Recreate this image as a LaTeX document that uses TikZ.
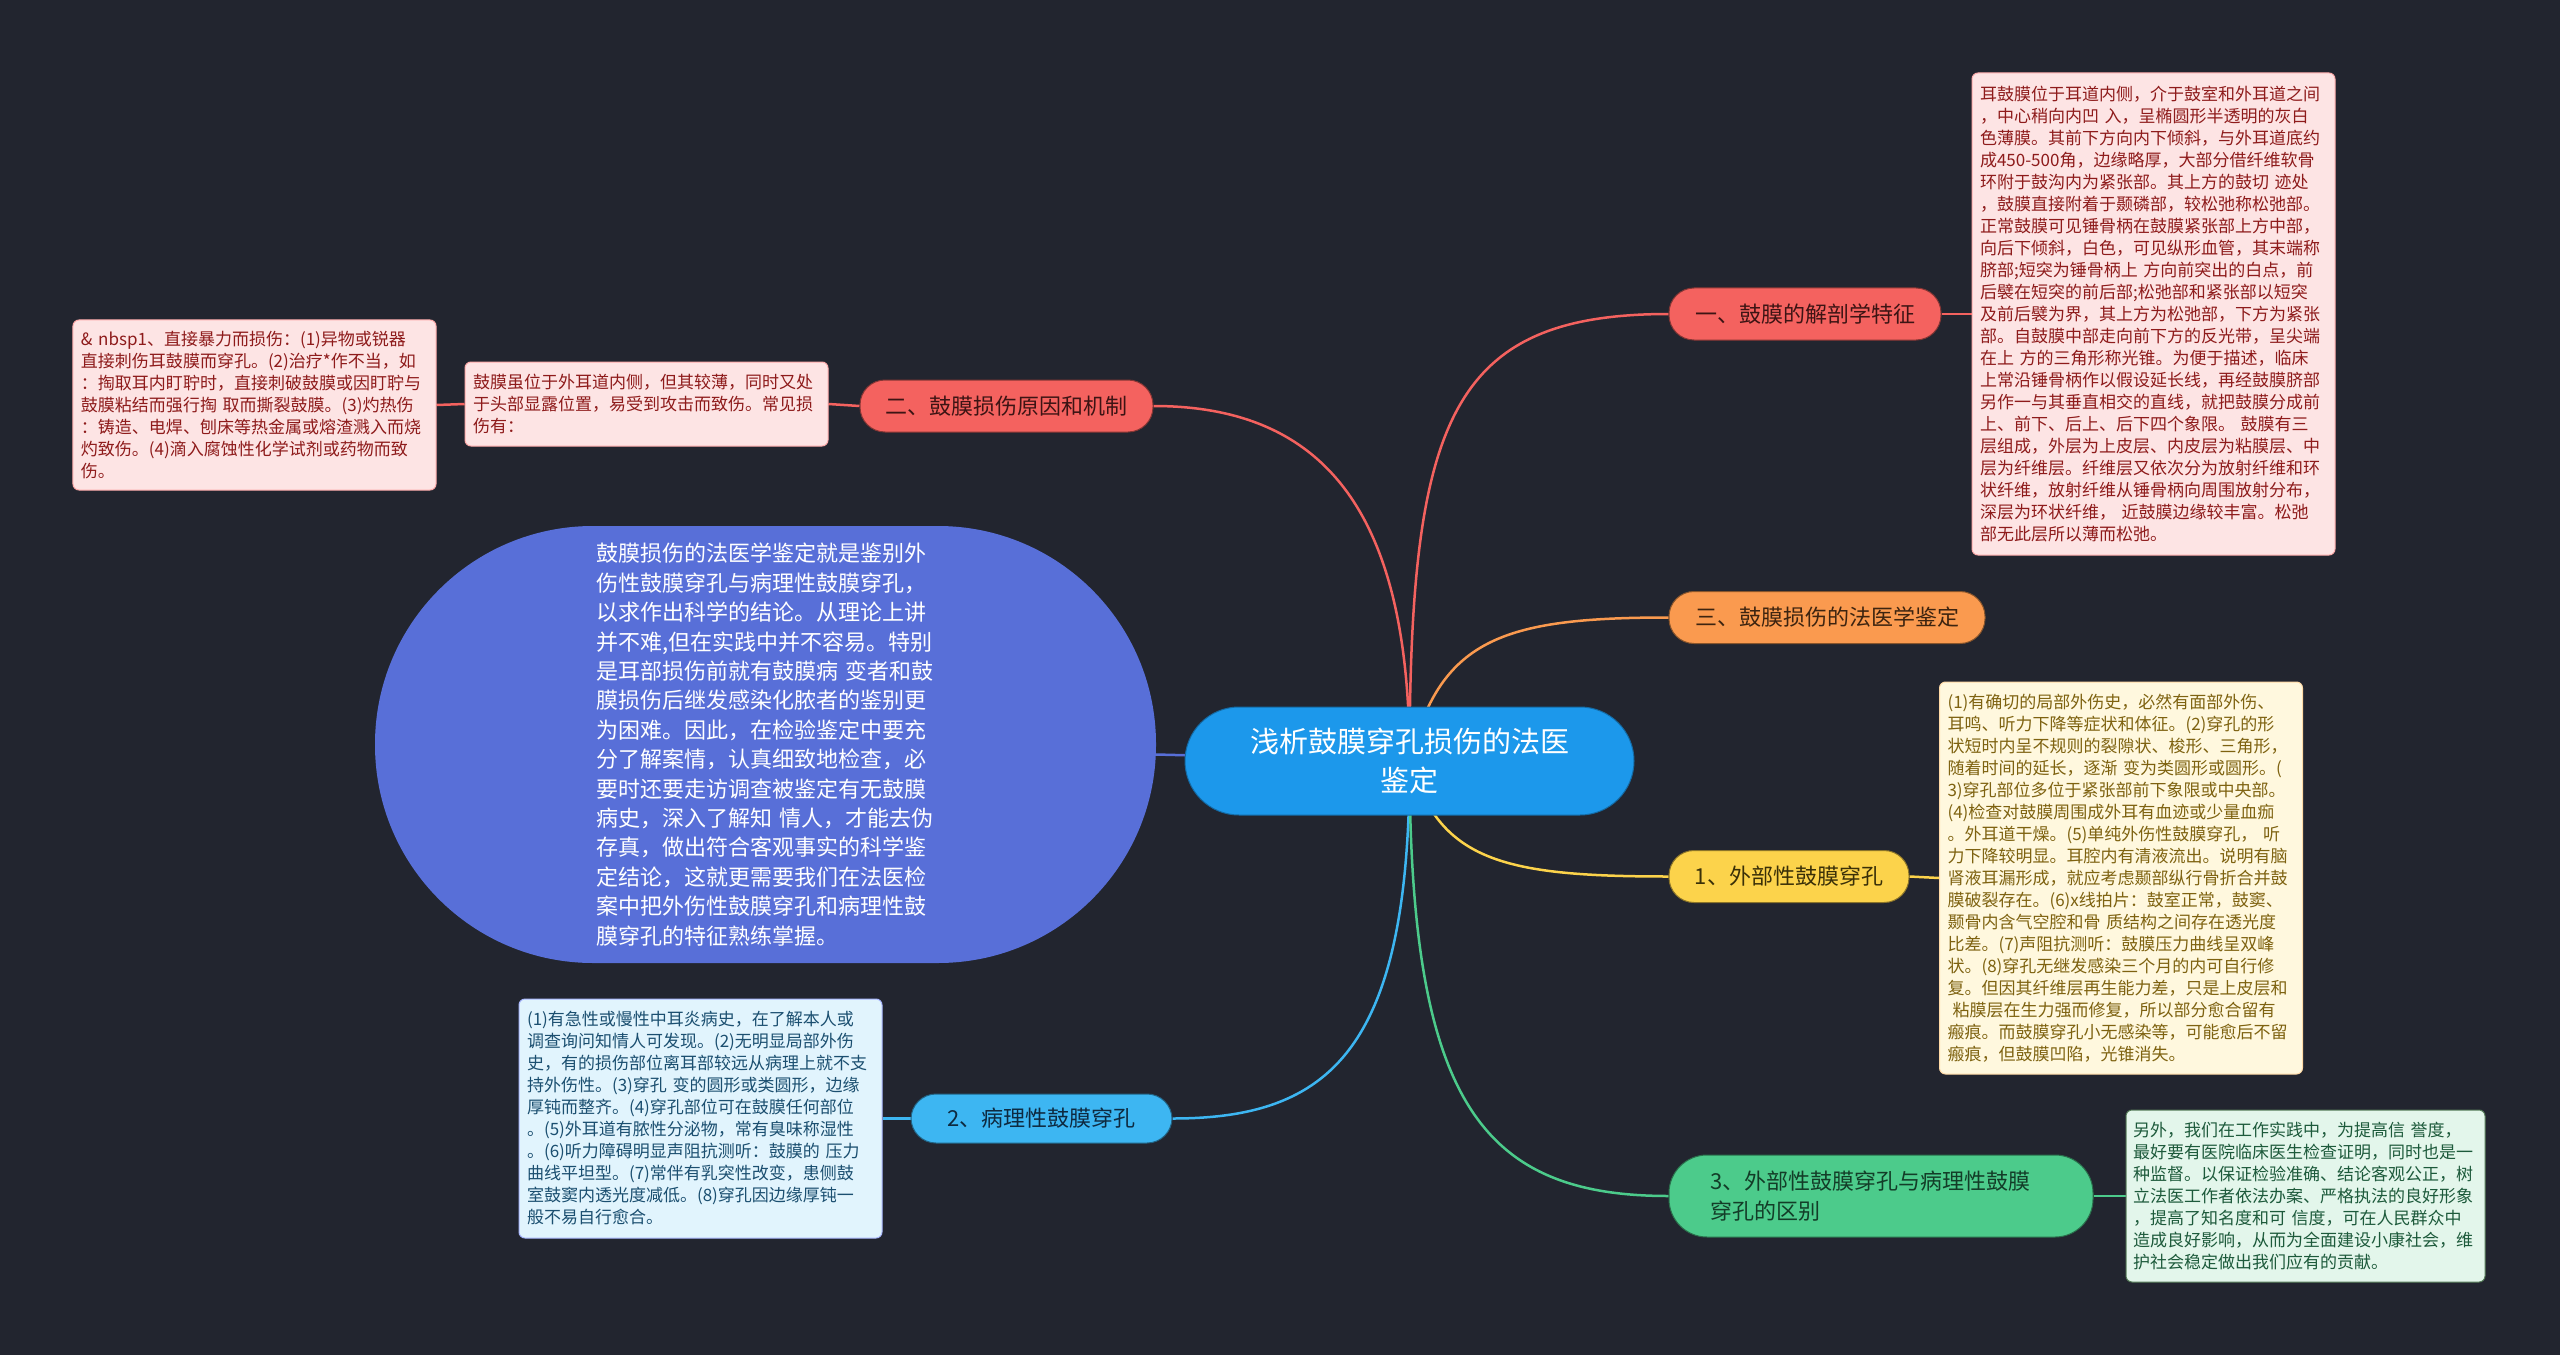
\documentclass[tikz,border=0pt]{standalone}
\usepackage{fontspec}
\setmainfont{Noto Sans CJK SC}
\definecolor{bgc}{HTML}{22252F}
\definecolor{redc}{HTML}{F4625F}
\definecolor{orgc}{HTML}{FA9A4F}
\definecolor{yelc}{HTML}{FCD34B}
\definecolor{cyac}{HTML}{3DB6F2}
\definecolor{grnc}{HTML}{4CCB8B}
\definecolor{ctrc}{HTML}{1C98EB}
\definecolor{bigc}{HTML}{586FD8}
\definecolor{pinkf}{HTML}{FDE4E4}
\definecolor{pinkt}{HTML}{8E1B1B}
\definecolor{yelf}{HTML}{FFF8DE}
\definecolor{yelt}{HTML}{7E6210}
\definecolor{cyaf}{HTML}{E1F4FD}
\definecolor{cyat}{HTML}{1B4F70}
\definecolor{grnf}{HTML}{E3F6EB}
\definecolor{grnt}{HTML}{1D5A3B}
\definecolor{redt}{HTML}{3D1414}
\definecolor{orgt}{HTML}{3D2410}
\definecolor{yelbt}{HTML}{3A3008}
\definecolor{cyabt}{HTML}{0E2A40}
\definecolor{grnbt}{HTML}{133D28}
\pgfdeclarelayer{under}
\pgfsetlayers{under,main}
\tikzset{
  detail/.style={rounded corners=6bp, line width=1bp, inner sep=0pt, align=left,
    text width=347bp, minimum width=363bp, font=\fontsize{17bp}{22bp}\selectfont},
  branch/.style={rounded corners=25bp, inner sep=0pt, line width=1bp,
    font=\fontsize{22bp}{30bp}\selectfont, minimum height=52bp},
  conn/.style={line width=2.5bp}
}
\begin{document}
\begin{tikzpicture}[x=1bp,y=-1bp]
\useasboundingbox (0,0) rectangle (2560,1355);

% central node
\node[fill=ctrc, draw=ctrc!70!black, line width=1bp, rounded corners=54bp, minimum width=449bp, minimum height=108bp,
  inner sep=0pt, align=center, text=white, font=\fontsize{29bp}{39bp}\selectfont] (c) at (1409.5,761)
  {浅析鼓膜穿孔损伤的法医\\鉴定};

% big node
\node[fill=bigc, rounded corners=218bp, minimum width=781bp, minimum height=437bp, inner sep=0pt,
  text width=338bp, align=left, text=white, font=\fontsize{22bp}{29.4bp}\selectfont] (bn) at (765.5,744.5)
  {鼓膜损伤的法医学鉴定就是鉴别外\\
伤性鼓膜穿孔与病理性鼓膜穿孔，\\
以求作出科学的结论。从理论上讲\\
并不难,但在实践中并不容易。特别\\
是耳部损伤前就有鼓膜病~变者和鼓\\
膜损伤后继发感染化脓者的鉴别更\\
为困难。因此，在检验鉴定中要充\\
分了解案情，认真细致地检查，必\\
要时还要走访调查被鉴定有无鼓膜\\
病史，深入了解知~情人，才能去伪\\
存真，做出符合客观事实的科学鉴\\
定结论，这就更需要我们在法医检\\
案中把外伤性鼓膜穿孔和病理性鼓\\
膜穿孔的特征熟练掌握。};

% branch nodes
\node[branch, fill=redc, draw=redc!55!black, text=redt, minimum width=272bp] (b1) at (1805,314) {一、鼓膜的解剖学特征};
\node[branch, fill=redc, draw=redc!55!black, text=redt, minimum width=293bp] (b2) at (1006.5,406) {二、鼓膜损伤原因和机制};
\node[branch, fill=orgc, draw=orgc!55!black, text=orgt, minimum width=316bp] (b3) at (1827,617.5) {三、鼓膜损伤的法医学鉴定};
\node[branch, fill=yelc, draw=yelc!55!black, text=yelbt, minimum width=240bp] (b4) at (1789,876.5) {1、外部性鼓膜穿孔};
\node[branch, fill=cyac, draw=cyac!55!black, text=cyabt, minimum width=261bp, minimum height=49bp] (b5) at (1041.5,1118.5) {2、病理性鼓膜穿孔};
\node[branch, fill=grnc, draw=grnc!55!black, text=grnbt, rounded corners=38bp, minimum width=424bp, minimum height=82bp,
  text width=342bp, align=left] (b6) at (1881,1196) {3、外部性鼓膜穿孔与病理性鼓膜\\穿孔的区别};

% detail boxes
\node[detail, fill=pinkf, draw=pinkf!75!red, text=pinkt, minimum height=482bp] (d1) at (2153.5,314)
{耳鼓膜位于耳道内侧，介于鼓室和外耳道之间\\
，中心稍向内凹~入，呈椭圆形半透明的灰白\\
色薄膜。其前下方向内下倾斜，与外耳道底约\\
成450-500角，边缘略厚，大部分借纤维软骨\\
环附于鼓沟内为紧张部。其上方的鼓切~迹处\\
，鼓膜直接附着于颞磷部，较松弛称松弛部。\\
正常鼓膜可见锤骨柄在鼓膜紧张部上方中部，\\
向后下倾斜，白色，可见纵形血管，其末端称\\
脐部;短突为锤骨柄上~方向前突出的白点，前\\
后襞在短突的前后部;松弛部和紧张部以短突\\
及前后襞为界，其上方为松弛部，下方为紧张\\
部。自鼓膜中部走向前下方的反光带，呈尖端\\
在上~方的三角形称光锥。为便于描述，临床\\
上常沿锤骨柄作以假设延长线，再经鼓膜脐部\\
另作一与其垂直相交的直线，就把鼓膜分成前\\
上、前下、后上、后下四个象限。~鼓膜有三\\
层组成，外层为上皮层、内皮层为粘膜层、中\\
层为纤维层。纤维层又依次分为放射纤维和环\\
状纤维，放射纤维从锤骨柄向周围放射分布，\\
深层为环状纤维，~近鼓膜边缘较丰富。松弛\\
部无此层所以薄而松弛。};

\node[detail, fill=pinkf, draw=pinkf!75!red, text=pinkt, minimum height=84bp] (d2b) at (646.5,404)
{鼓膜虽位于外耳道内侧，但其较薄，同时又处\\
于头部显露位置，易受到攻击而致伤。常见损\\
伤有：};

\node[detail, fill=pinkf, draw=pinkf!75!red, text=pinkt, minimum height=170bp] (d2a) at (254.5,405)
{\&~nbsp1、直接暴力而损伤：(1)异物或锐器\\
直接刺伤耳鼓膜而穿孔。(2)治疗*作不当，如\\
：掏取耳内盯聍时，直接刺破鼓膜或因盯聍与\\
鼓膜粘结而强行掏~取而撕裂鼓膜。(3)灼热伤\\
：铸造、电焊、刨床等热金属或熔渣溅入而烧\\
灼致伤。(4)滴入腐蚀性化学试剂或药物而致\\
伤。};

\node[detail, fill=yelf, draw=yelf!75!orange, text=yelt, minimum height=392bp] (d4) at (2121,878)
{(1)有确切的局部外伤史，必然有面部外伤、\\
耳鸣、听力下降等症状和体征。(2)穿孔的形\\
状短时内呈不规则的裂隙状、梭形、三角形，\\
随着时间的延长，逐渐~变为类圆形或圆形。(\\
3)穿孔部位多位于紧张部前下象限或中央部。\\
(4)检查对鼓膜周围成外耳有血迹或少量血痂\\
。外耳道干燥。(5)单纯外伤性鼓膜穿孔，~听\\
力下降较明显。耳腔内有清液流出。说明有脑\\
肾液耳漏形成，就应考虑颞部纵行骨折合并鼓\\
膜破裂存在。(6)x线拍片：鼓室正常，鼓窦、\\
颞骨内含气空腔和骨~质结构之间存在透光度\\
比差。(7)声阻抗测听：鼓膜压力曲线呈双峰\\
状。(8)穿孔无继发感染三个月的内可自行修\\
复。但因其纤维层再生能力差，只是上皮层和\\
\hspace*{0.3em}粘膜层在生力强而修复，所以部分愈合留有\\
瘢痕。而鼓膜穿孔小无感染等，可能愈后不留\\
瘢痕，但鼓膜凹陷，光锥消失。};

\node[detail, fill=cyaf, draw=cyaf!75!blue, text=cyat, minimum height=239bp] (d5) at (700.5,1118.5)
{(1)有急性或慢性中耳炎病史，在了解本人或\\
调查询问知情人可发现。(2)无明显局部外伤\\
史，有的损伤部位离耳部较远从病理上就不支\\
持外伤性。(3)穿孔~变的圆形或类圆形，边缘\\
厚钝而整齐。(4)穿孔部位可在鼓膜任何部位\\
。(5)外耳道有脓性分泌物，常有臭味称湿性\\
。(6)听力障碍明显声阻抗测听：鼓膜的~压力\\
曲线平坦型。(7)常伴有乳突性改变，患侧鼓\\
室鼓窦内透光度减低。(8)穿孔因边缘厚钝一\\
般不易自行愈合。};

\node[detail, fill=grnf, draw=grnf!75!green!50!black, text=grnt, minimum width=359bp, text width=345bp, minimum height=172bp] (d6) at (2305.5,1196)
{另外，我们在工作实践中，为提高信~誉度，\\
最好要有医院临床医生检查证明，同时也是一\\
种监督。以保证检验准确、结论客观公正，树\\
立法医工作者依法办案、严格执法的良好形象\\
，提高了知名度和可~信度，可在人民群众中\\
造成良好影响，从而为全面建设小康社会，维\\
护社会稳定做出我们应有的贡献。};

\begin{pgfonlayer}{under}
\fill[bgc] (0,0) rectangle (2560,1355);
\draw[conn, bigc] (bn.center) -- (c.center);
\draw[conn, redc] (c.center) .. controls (1410,420) and (1450,314) .. (b1.west);
\draw[conn, redc] (b2.east) .. controls (1330,406) and (1410,520) .. (c.center);
\draw[conn, orgc] (c.center) .. controls (1440,640) and (1500,617.5) .. (b3.west);
\draw[conn, yelc] (c.center) .. controls (1440,860) and (1500,876.5) .. (b4.west);
\draw[conn, cyac] (c.center) .. controls (1410,1050) and (1330,1118.5) .. (b5.east);
\draw[conn, grnc] (c.center) .. controls (1410,1100) and (1480,1196) .. (b6.west);
\draw[conn, redc] (b1.east) -- (d1.west);
\draw[conn, redc] (b2.west) -- (d2b.east);
\draw[conn, redc] (d2b.west) -- (d2a.east);
\draw[conn, yelc] (b4.east) -- (d4.west);
\draw[conn, cyac] (b5.west) -- (d5.east);
\draw[conn, grnc] (b6.east) -- (d6.west);
\end{pgfonlayer}
\end{tikzpicture}
\end{document}
